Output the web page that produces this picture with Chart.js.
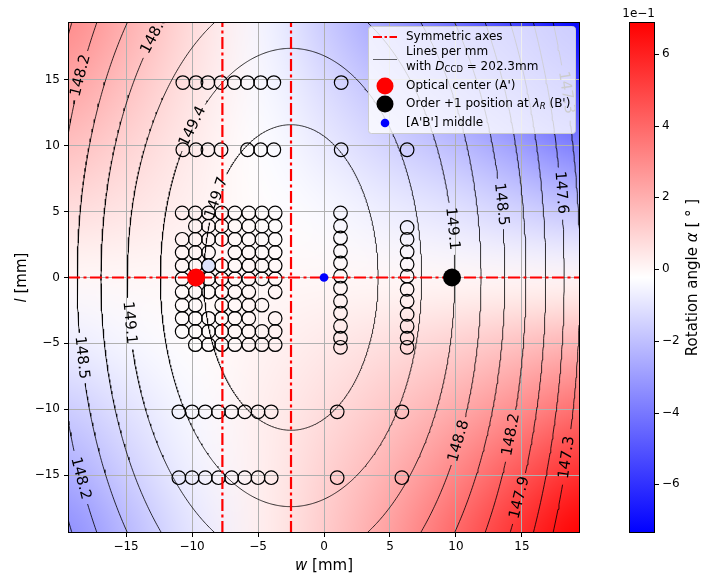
<!DOCTYPE html>
<html>
<head>
<meta charset="utf-8">
<script src="https://cdn.jsdelivr.net/npm/chart.js@4.4.0/dist/chart.umd.min.js"></script>
<style>
  html, body { margin: 0; padding: 0; background: #fff; }
  #wrap { width: 717px; height: 578px; }
</style>
</head>
<body>
<div id="wrap"><canvas id="chart" width="717" height="578"></canvas></div>
<script>
const FONT = "'DejaVu Sans', sans-serif";

/* ======================
   AXES
====================== */
const xRange = [-19.4, 19.4];
const yRange = [-19.4, 19.4];
const xTicks = [-15, -10, -5, 0, 5, 10, 15];
const yTicks = [-15, -10, -5, 0, 5, 10, 15];

/* ======================
   ROTATION ANGLE MAP (x 1e-1 deg), read on a coarse grid
====================== */
const alphaMin = -0.736;
const alphaMax = 0.689;
const cbarTicks = [-0.6, -0.4, -0.2, 0, 0.2, 0.4, 0.6];
const cbarTickLabels = ["−6", "−4", "−2", "0", "2", "4", "6"];
const mapW = [-19.4, -14.55, -9.7, -4.85, 0, 4.85, 9.7, 14.55, 19.4];
const mapL = [19.4, 14.55, 9.7, 4.85, 0, -4.85, -9.7, -14.55, -19.4];
const mapAlpha = [
  [0.30, 0.19, 0.07, -0.05, -0.17, -0.29, -0.42, -0.56, -0.736],
  [0.23, 0.14, 0.05, -0.04, -0.12, -0.21, -0.31, -0.43, -0.56],
  [0.15, 0.09, 0.03, -0.03, -0.08, -0.14, -0.20, -0.28, -0.37],
  [0.07, 0.045, 0.015, -0.015, -0.04, -0.07, -0.10, -0.14, -0.18],
  [0.0, 0.0, 0.0, 0.0, 0.0, 0.0, 0.0, 0.0, 0.0],
  [-0.075, -0.045, -0.015, 0.01, 0.035, 0.065, 0.10, 0.14, 0.18],
  [-0.16, -0.095, -0.04, 0.02, 0.07, 0.13, 0.20, 0.28, 0.37],
  [-0.25, -0.15, -0.06, 0.02, 0.10, 0.19, 0.30, 0.43, 0.55],
  [-0.34, -0.21, -0.09, 0.02, 0.12, 0.24, 0.39, 0.55, 0.689],
];

/* ======================
   LINES PER MM (contours, elliptic)
====================== */
const contourCenter = [-2.5, 0];
const contourLevels = [149.7, 149.4, 149.1, 148.8, 148.5, 148.2, 147.9, 147.6, 147.3];
const contourHalfW = [6.6, 9.9, 12.4, 14.4, 16.2, 17.8, 19.3, 20.7, 21.9];
const contourHalfL = [11.6, 17.4, 21.9, 26.5, 30.1, 34.4, 38.0, 42.0, 46.0];
const labelLevel = [148.2, 148.8, 149.4, 149.7, 149.1, 148.5, 148.2, 149.1, 148.5, 147.6, 147.3, 148.8, 148.2, 147.9, 147.3];
const labelW = [-18.4, -12.7, -10.1, -8.2, -15.0, -18.4, -18.4, 9.7, 13.5, 17.8, 18.0, 10.1, 14.0, 14.4, 18.3];
const labelL = [15.3, 18.3, 11.7, 6.1, -3.5, -6.1, -15.2, 3.7, 5.6, 6.4, 13.8, -12.3, -11.8, -16.3, -13.6];
const labelGap = 1.9;

/* ======================
   MEASUREMENT POSITIONS
====================== */
const blockW = [-10.75, -9.75, -8.75, -7.75, -6.75, -5.7, -4.7, -3.7];
const blockL = [4.9, 3.9, 2.9, 1.9, 0.9, -0.1, -1.1, -2.1, -3.1, -4.1, -5.1];
const blockMask = [
  "11111111", "01111111", "11111111", "11101111", "11111111", "11111111",
  "11111101", "11011110", "11111101", "11111111", "01111111",
];
const row15W = [-10.7, -9.7, -8.8, -7.8, -6.8, -5.8, -4.8, -3.8, 1.3];
const row10W = [-10.7, -9.7, -8.8, -7.8, -5.8, -4.8, -3.8, 1.3, 6.3];
const rowM10W = [-11.0, -10.0, -9.0, -8.0, -7.0, -6.0, -5.0, -4.0, 1.0, 5.9];
const rowM15W = [-11.0, -10.0, -9.0, -8.0, -7.0, -6.0, -5.0, -4.0, 1.0, 5.9];
const rowL = [14.8, 9.7, -10.2, -15.2];
const colAW = 1.25;
const colAL = [4.9, 3.9, 3.0, 2.0, 1.1, 0.1, -0.8, -1.8, -2.7, -3.7, -4.6, -5.3];
const colBW = 6.3;
const colBL = [3.8, 2.9, 1.95, 1.0, 0.1, -0.9, -1.8, -2.8, -3.7, -4.6, -5.3];
const shadedPoint = [-8.75, 0.9];

const symAxisW = [-7.7, -2.5];
const symAxisL = [0];
const opticalCenter = [-9.7, 0];
const orderPlusOne = [9.7, 0];
const middlePoint = [0, 0];

/* ======================
   HELPERS
====================== */
function bwr(v) {
  let t = (v - alphaMin) / (alphaMax - alphaMin);
  t = Math.max(0, Math.min(1, t));
  if (t < 0.5) {
    const c = Math.round(2 * t * 255);
    return [c, c, 255];
  }
  const c = Math.round((2 - 2 * t) * 255);
  return [255, c, c];
}

function minus(v) {
  return String(v).replace("-", "−");
}

function labelPoints() {
  const [cx, cy] = contourCenter;
  return labelLevel.map((lev, i) => {
    const k = contourLevels.indexOf(lev);
    const a = contourHalfW[k], b = contourHalfL[k];
    const t = Math.atan2((labelL[i] - cy) / b, (labelW[i] - cx) / a);
    return { k, t, a, b, x: cx + a * Math.cos(t), y: cy + b * Math.sin(t), text: lev.toFixed(1) };
  });
}

function contourSegments(k) {
  const [cx, cy] = contourCenter;
  const a = contourHalfW[k], b = contourHalfL[k];
  const n = 720;
  const gaps = labelPoints().filter((p) => p.k === k);
  const pts = [];
  for (let i = 0; i < n; i++) {
    const t = (i / n) * 2 * Math.PI;
    const x = cx + a * Math.cos(t);
    const y = cy + b * Math.sin(t);
    pts.push({ x, y, cut: gaps.some((g) => Math.hypot(x - g.x, y - g.y) < labelGap) });
  }
  const start = pts.findIndex((p) => p.cut);
  if (start < 0) return [pts.concat([pts[0]]).map((p) => ({ x: p.x, y: p.y }))];
  const segs = [];
  let cur = [];
  for (let j = 0; j <= n; j++) {
    const p = pts[(start + j) % n];
    if (p.cut) {
      if (cur.length > 1) segs.push(cur);
      cur = [];
    } else cur.push({ x: p.x, y: p.y });
  }
  if (cur.length > 1) segs.push(cur);
  return segs;
}

/* ======================
   DATASETS
====================== */
const circles = [];
blockL.forEach((l, j) => {
  blockW.forEach((w, i) => {
    if (blockMask[j][i] === "1") circles.push({ x: w, y: l });
  });
});
[row15W, row10W, rowM10W, rowM15W].forEach((row, j) => {
  row.forEach((w) => circles.push({ x: w, y: rowL[j] }));
});
colAL.forEach((l) => circles.push({ x: colAW, y: l }));
colBL.forEach((l) => circles.push({ x: colBW, y: l }));

const datasets = [];
contourLevels.forEach((lev, k) => {
  contourSegments(k).forEach((seg) =>
    datasets.push({
      data: seg, showLine: true, borderColor: "#000", borderWidth: 0.8,
      pointRadius: 0, tension: 0, order: 50,
    })
  );
});

datasets.push({
  data: circles, showLine: false, pointRadius: 6.8, pointBorderWidth: 1.2,
  pointBorderColor: "#000", pointBackgroundColor: "rgba(0,0,0,0)", order: 40,
});
datasets.push({
  data: [{ x: shadedPoint[0], y: shadedPoint[1] }], showLine: false, pointRadius: 6.8,
  pointBorderWidth: 1.2, pointBorderColor: "#000", pointBackgroundColor: "#dde2fb", order: 39,
});

const dashDot = [12, 3.5, 3, 3.5];
symAxisW.forEach((w) =>
  datasets.push({
    data: [{ x: w, y: yRange[0] }, { x: w, y: yRange[1] }], showLine: true,
    borderColor: "#ff0000", borderWidth: 2.2, borderDash: dashDot, pointRadius: 0, order: 30,
  })
);
symAxisL.forEach((l) =>
  datasets.push({
    data: [{ x: xRange[0], y: l }, { x: xRange[1], y: l }], showLine: true,
    borderColor: "#ff0000", borderWidth: 2.2, borderDash: dashDot, pointRadius: 0, order: 30,
  })
);

datasets.push({
  data: [{ x: opticalCenter[0], y: opticalCenter[1] }], pointRadius: 9,
  pointBackgroundColor: "#ff0000", pointBorderWidth: 0, order: 3,
});
datasets.push({
  data: [{ x: orderPlusOne[0], y: orderPlusOne[1] }], pointRadius: 9,
  pointBackgroundColor: "#000", pointBorderWidth: 0, order: 2,
});
datasets.push({
  data: [{ x: middlePoint[0], y: middlePoint[1] }], pointRadius: 4.3,
  pointBackgroundColor: "#0000ff", pointBorderWidth: 0, order: 1,
});

/* ======================
   PLUGINS
====================== */
const heatmapPlugin = {
  id: "heatmap",
  beforeDraw(chart) {
    const { ctx, chartArea, scales } = chart;
    const off = document.createElement("canvas");
    off.width = mapW.length;
    off.height = mapL.length;
    const octx = off.getContext("2d");
    const img = octx.createImageData(mapW.length, mapL.length);
    mapAlpha.forEach((row, j) =>
      row.forEach((v, i) => {
        const [r, g, b] = bwr(v);
        const p = (j * mapW.length + i) * 4;
        img.data[p] = r; img.data[p + 1] = g; img.data[p + 2] = b; img.data[p + 3] = 255;
      })
    );
    octx.putImageData(img, 0, 0);
    const dw = (mapW[1] - mapW[0]) / 2;
    const dl = (mapL[0] - mapL[1]) / 2;
    const x0 = scales.x.getPixelForValue(mapW[0] - dw);
    const x1 = scales.x.getPixelForValue(mapW[mapW.length - 1] + dw);
    const y0 = scales.y.getPixelForValue(mapL[0] + dl);
    const y1 = scales.y.getPixelForValue(mapL[mapL.length - 1] - dl);
    ctx.save();
    ctx.beginPath();
    ctx.rect(chartArea.left, chartArea.top, chartArea.width, chartArea.height);
    ctx.clip();
    ctx.imageSmoothingEnabled = true;
    ctx.imageSmoothingQuality = "high";
    ctx.drawImage(off, x0, y0, x1 - x0, y1 - y0);
    ctx.restore();
  },
};

function richText(ctx, x, y, parts, align) {
  let total = 0;
  parts.forEach((p) => { ctx.font = p.font; total += ctx.measureText(p.t).width; });
  let cx = align === "center" ? x - total / 2 : x;
  ctx.textAlign = "left";
  parts.forEach((p) => {
    ctx.font = p.font;
    ctx.fillText(p.t, cx, y + (p.dy || 0));
    cx += ctx.measureText(p.t).width;
  });
}

const overlayPlugin = {
  id: "overlay",
  afterDatasetsDraw(chart) {
    const { ctx, chartArea: ca, scales } = chart;
    const sx = scales.x, sy = scales.y;
    const pxW = Math.abs(sx.getPixelForValue(1) - sx.getPixelForValue(0));
    const pxL = Math.abs(sy.getPixelForValue(1) - sy.getPixelForValue(0));

    // contour labels
    ctx.save();
    ctx.beginPath();
    ctx.rect(ca.left, ca.top, ca.width, ca.height);
    ctx.clip();
    ctx.fillStyle = "#000";
    ctx.font = "15px " + FONT;
    ctx.textAlign = "center";
    ctx.textBaseline = "middle";
    labelPoints().forEach((p) => {
      let ang = Math.atan2(-p.b * Math.cos(p.t) * pxL, -p.a * Math.sin(p.t) * pxW);
      if (ang > Math.PI / 2) ang -= Math.PI;
      if (ang < -Math.PI / 2) ang += Math.PI;
      ctx.save();
      ctx.translate(sx.getPixelForValue(p.x), sy.getPixelForValue(p.y));
      ctx.rotate(ang);
      ctx.fillText(p.text, 0, 0);
      ctx.restore();
    });
    ctx.restore();

    // legend
    const lx = ca.right - 212, ly = ca.top + 4, lw = 207, lh = 107;
    ctx.save();
    ctx.beginPath();
    ctx.roundRect(lx + 0.5, ly + 0.5, lw, lh, 3);
    ctx.fillStyle = "rgba(255,255,255,0.8)";
    ctx.fill();
    ctx.strokeStyle = "#cccccc";
    ctx.lineWidth = 1;
    ctx.stroke();

    const hx0 = lx + 5, hx1 = lx + 29, hc = lx + 17, tx = lx + 38;
    ctx.textBaseline = "middle";
    ctx.fillStyle = "#000";
    const f = "12px " + FONT, fi = "italic 12px " + FONT, fs = "8.5px " + FONT, fsi = "italic 8.5px " + FONT;

    ctx.strokeStyle = "#ff0000";
    ctx.lineWidth = 2.2;
    ctx.setLineDash([9, 2.5, 2.5, 2.5]);
    ctx.beginPath(); ctx.moveTo(hx0, ly + 11); ctx.lineTo(hx1, ly + 11); ctx.stroke();
    ctx.setLineDash([]);
    richText(ctx, tx, ly + 11, [{ t: "Symmetric axes", font: f }]);

    ctx.strokeStyle = "#000";
    ctx.lineWidth = 0.6;
    ctx.beginPath(); ctx.moveTo(hx0, ly + 33.5); ctx.lineTo(hx1, ly + 33.5); ctx.stroke();
    richText(ctx, tx, ly + 26, [{ t: "Lines per mm", font: f }]);
    richText(ctx, tx, ly + 41, [
      { t: "with ", font: f }, { t: "D", font: fi }, { t: "CCD", font: fs, dy: 3 },
      { t: " = 202.3mm", font: f },
    ]);

    ctx.fillStyle = "#ff0000";
    ctx.beginPath(); ctx.arc(hc, ly + 60, 8.5, 0, 2 * Math.PI); ctx.fill();
    ctx.fillStyle = "#000";
    ctx.beginPath(); ctx.arc(hc, ly + 78, 8.5, 0, 2 * Math.PI); ctx.fill();
    ctx.fillStyle = "#0000ff";
    ctx.beginPath(); ctx.arc(hc, ly + 97, 4.3, 0, 2 * Math.PI); ctx.fill();

    ctx.fillStyle = "#000";
    richText(ctx, tx, ly + 60, [{ t: "Optical center (A')", font: f }]);
    richText(ctx, tx, ly + 78, [
      { t: "Order +1 position at ", font: f }, { t: "λ", font: fi },
      { t: "R", font: fsi, dy: 3 }, { t: " (B')", font: f },
    ]);
    richText(ctx, tx, ly + 97, [{ t: "[A'B'] middle", font: f }]);
    ctx.restore();

    // frame
    ctx.save();
    ctx.strokeStyle = "#000";
    ctx.lineWidth = 1;
    ctx.strokeRect(ca.left + 0.5, ca.top + 0.5, ca.width - 1, ca.height - 1);
    ctx.restore();
  },
  afterDraw(chart) {
    const { ctx, chartArea: ca } = chart;
    ctx.save();
    ctx.fillStyle = "#000";
    ctx.textBaseline = "middle";

    // axis titles
    const ft = "15px " + FONT, fti = "italic 15px " + FONT;
    richText(ctx, (ca.left + ca.right) / 2, 566, [{ t: "w", font: fti }, { t: " [mm]", font: ft }], "center");
    ctx.save();
    ctx.translate(22, (ca.top + ca.bottom) / 2);
    ctx.rotate(-Math.PI / 2);
    richText(ctx, 0, 0, [{ t: "l", font: fti }, { t: " [mm]", font: ft }], "center");
    ctx.restore();

    // colorbar
    const bx = 629, bw = 26, top = ca.top, bot = ca.bottom;
    const grad = ctx.createLinearGradient(0, top, 0, bot);
    grad.addColorStop(0, "rgb(255,0,0)");
    grad.addColorStop(0.5, "rgb(255,255,255)");
    grad.addColorStop(1, "rgb(0,0,255)");
    ctx.fillStyle = grad;
    ctx.fillRect(bx, top, bw, bot - top);
    ctx.strokeStyle = "#000";
    ctx.lineWidth = 1;
    ctx.strokeRect(bx + 0.5, top + 0.5, bw - 1, bot - top - 1);

    ctx.fillStyle = "#000";
    ctx.font = "12px " + FONT;
    ctx.textAlign = "left";
    cbarTicks.forEach((v, i) => {
      const y = top + ((alphaMax - v) / (alphaMax - alphaMin)) * (bot - top);
      ctx.beginPath();
      ctx.moveTo(bx + bw, Math.round(y) + 0.5);
      ctx.lineTo(bx + bw + 4, Math.round(y) + 0.5);
      ctx.stroke();
      ctx.fillText(cbarTickLabels[i], bx + bw + 7, y);
    });
    ctx.textAlign = "right";
    ctx.fillText("1e−1", bx + bw, 14);

    ctx.translate(693, (top + bot) / 2);
    ctx.rotate(-Math.PI / 2);
    richText(ctx, 0, 0, [
      { t: "Rotation angle ", font: ft }, { t: "α", font: fti }, { t: " [ ° ]", font: ft },
    ], "center");
    ctx.restore();
  },
};

/* ======================
   CHART
====================== */
const tickFont = { family: FONT, size: 12 };
const gridOpts = { color: "#b0b0b0", lineWidth: 1, drawTicks: true, tickLength: 4, tickColor: "#000" };

new Chart(document.getElementById("chart"), {
  type: "scatter",
  data: { datasets },
  options: {
    animation: false,
    responsive: false,
    devicePixelRatio: 1,
    events: [],
    layout: { padding: { top: 22, right: 137, left: 0, bottom: 0 } },
    plugins: { legend: { display: false }, tooltip: { enabled: false } },
    scales: {
      x: {
        type: "linear", min: xRange[0], max: xRange[1],
        afterBuildTicks: (s) => { s.ticks = xTicks.map((v) => ({ value: v })); },
        afterFit: (s) => { s.height = 45; },
        ticks: { callback: (v) => minus(v), color: "#000", font: tickFont, padding: 3, maxRotation: 0 },
        grid: gridOpts,
        border: { display: false },
      },
      y: {
        type: "linear", min: yRange[0], max: yRange[1],
        afterBuildTicks: (s) => { s.ticks = yTicks.map((v) => ({ value: v })); },
        afterFit: (s) => { s.width = 68; },
        ticks: { callback: (v) => minus(v), color: "#000", font: tickFont, padding: 4 },
        grid: gridOpts,
        border: { display: false },
      },
    },
  },
  plugins: [heatmapPlugin, overlayPlugin],
});
</script>
</body>
</html>
